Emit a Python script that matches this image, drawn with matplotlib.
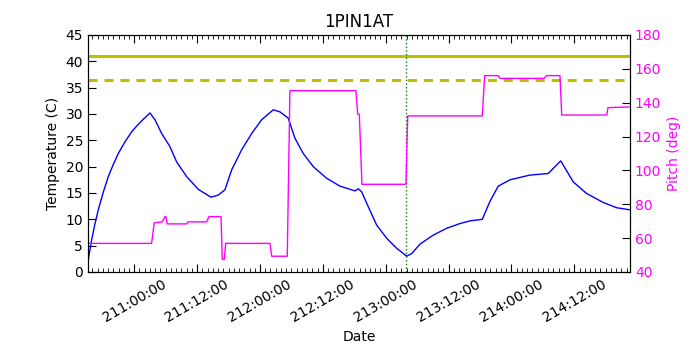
import matplotlib
matplotlib.use("Agg")
import matplotlib.pyplot as plt
from matplotlib.ticker import MultipleLocator, FuncFormatter

plt.rcParams['font.family'] = ['DejaVu Sans']
plt.rcParams['lines.scale_dashes'] = False

# Time in fractional day-of-year
temp_days = [210.632, 210.661, 210.687, 210.714, 210.753, 210.793, 210.833, 210.873,
             210.926, 210.979, 211.019, 211.059, 211.125,
             211.165, 211.218, 211.284, 211.337, 211.417, 211.509, 211.610, 211.668,
             211.721, 211.775, 211.854, 211.934, 212.013, 212.106, 212.159, 212.225,
             212.278, 212.344, 212.424, 212.530, 212.636, 212.756, 212.782, 212.809,
             212.861, 212.928, 213.008, 213.087, 213.167, 213.207, 213.273, 213.378,
             213.485, 213.591, 213.670, 213.768, 213.829, 213.895, 213.988, 214.147,
             214.293, 214.392, 214.492, 214.598, 214.730, 214.837, 214.943]
temp_vals = [2.0, 6.1, 9.1, 11.8, 15.1, 18.1, 20.4, 22.5,
             24.7, 26.6, 27.7, 28.7, 30.2,
             28.9, 26.3, 23.8, 20.9, 18.1, 15.7, 14.2, 14.6,
             15.6, 19.4, 23.2, 26.3, 28.9, 30.8, 30.4, 29.2,
             25.4, 22.5, 20.0, 17.8, 16.3, 15.4, 15.8, 15.2,
             12.4, 8.9, 6.4, 4.5, 3.0, 3.5, 5.3, 7.0,
             8.3, 9.2, 9.7, 10.0, 13.4, 16.3, 17.5, 18.4,
             18.7, 21.1, 17.1, 14.9, 13.2, 12.2, 11.8]

pitch_days = [210.632, 211.138, 211.159, 211.223, 211.244, 211.252, 211.262, 211.417,
              211.427, 211.576, 211.594, 211.690, 211.700, 211.716, 211.727, 212.079,
              212.093, 212.217, 212.238, 212.763, 212.777, 212.790, 212.811, 213.161,
              213.175, 213.768, 213.787, 213.895, 213.909, 214.259, 214.280, 214.386,
              214.400, 214.758, 214.768, 214.943]
pitch_vals = [56.9, 56.9, 69.1, 69.6, 72.7, 72.7, 68.4, 68.4,
              69.6, 69.6, 72.7, 72.7, 47.5, 47.5, 56.9, 56.9,
              49.3, 49.3, 147.1, 147.1, 133.2, 133.2, 91.8, 91.8,
              132.2, 132.2, 156.0, 156.0, 154.4, 154.4, 156.0, 156.0,
              132.7, 132.7, 137.1, 137.5]

limit_planning = 41.0
limit_margin = 36.4
event_day = 213.165
x_range = (210.632, 214.943)

fig = plt.figure(figsize=(7, 3.5), dpi=100)
ax = fig.add_axes([0.1257, 0.2229, 0.9 - 0.1257, 0.9 - 0.2229])
ax.plot(temp_days, temp_vals, color='b', lw=1.0)
ax.axhline(limit_planning, color='#bfbf00', lw=2.2, ls='-')
ax.axhline(limit_margin, color='#bfbf00', lw=2.2, dashes=(6.5, 5))
ax.axvline(event_day, color='g', lw=1.0, ls=':')
ax.set_xlim(*x_range)
ax.set_ylim(0, 45)
ax.set_ylabel('Temperature (C)', fontsize=10)
ax.set_xlabel('Date', fontsize=10)
ax.set_title('1PIN1AT', fontsize=12)

ax.xaxis.set_major_locator(MultipleLocator(0.5))
ax.xaxis.set_minor_locator(MultipleLocator(1 / 24))


def fmt(d, pos=None):
    mins = int(round(d * 1440))
    day = mins // 1440
    rem = mins % 1440
    return f"{day}:{rem // 60:02d}:{rem % 60:02d}"


ax.xaxis.set_major_formatter(FuncFormatter(fmt))
ax.yaxis.set_major_locator(MultipleLocator(5))
ax.tick_params(axis='x', which='both', direction='in', top=True, bottom=True)
ax.tick_params(axis='x', which='major', length=5.5)
ax.tick_params(axis='x', which='minor', length=2.8)
ax.tick_params(axis='y', which='both', direction='in', left=True, right=False, length=5.5)
ax.tick_params(labelsize=10)
for lab in ax.get_xticklabels():
    lab.set_rotation(30)
    lab.set_ha('center')

ax2 = ax.twinx()
ax2.plot(pitch_days, pitch_vals, color='magenta', lw=1.0)
ax2.set_ylim(40, 180)
ax2.yaxis.set_major_locator(MultipleLocator(20))
ax2.tick_params(axis='y', direction='in', length=5.5, labelcolor='magenta', labelsize=10)
ax2.set_ylabel('Pitch (deg)', color='magenta', fontsize=10)
ax2.set_xlim(*x_range)

fig.savefig('out.png', dpi=100)
